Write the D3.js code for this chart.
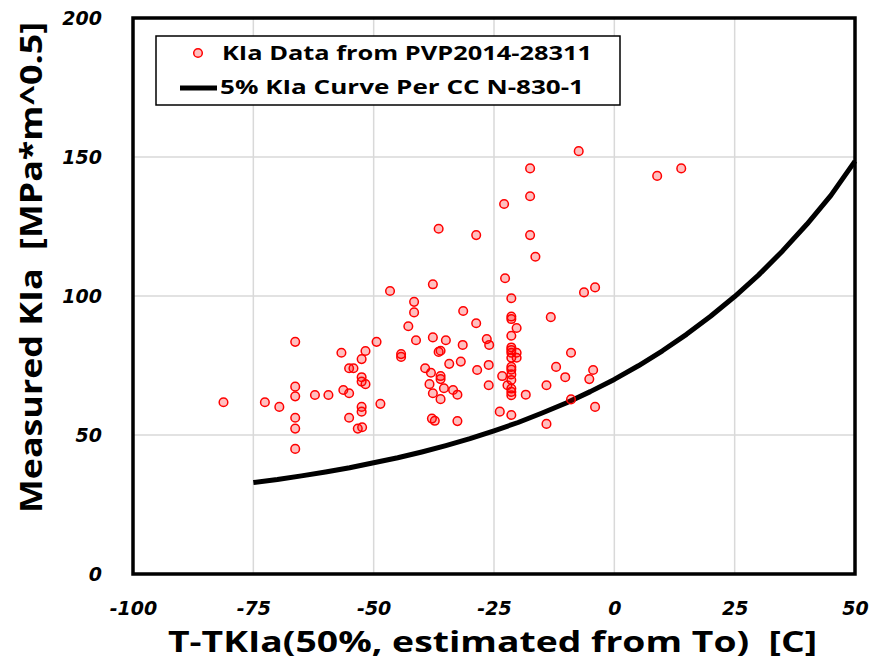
<!DOCTYPE html>
<html>
<head>
<meta charset="utf-8">
<script src="https://cdn.jsdelivr.net/npm/d3@7"></script>
<style>
  body { margin: 0; background: #fff; }
  svg { display: block; }
  text { font-family: "Open Sans", "DejaVu Sans", sans-serif; font-weight: bold; fill: #000; white-space: pre; }
</style>
</head>
<body>
<svg id="vis-container"></svg>
<script>
const WIDTH = 871
const HEIGHT = 661
const PLOT = { left: 133, right: 855, top: 18, bottom: 574 }
const CONTAINER = d3.select("#vis-container")

// measured KIa data (T - TKIa50, KIa)
const dataTemp = [
    -81.2, -72.6, -69.6, -66.3, -66.3, -66.3, -66.3, -66.3, -66.3, -62.2,
    -59.4, -56.7, -56.3, -55.1, -54.2, -55.1, -55.1, -53.3, -52.4, -52.5,
    -51.7, -52.5, -52.5, -51.7, -52.5, -52.5, -49.4, -48.6, -46.6, -44.3,
    -44.3, -42.8, -41.6, -41.6, -41.2, -39.3, -38.4, -38.1, -37.7, -37.7,
    -37.7, -37.9, -37.3, -36.5, -36.5, -36.1, -36.1, -36.1, -36.1, -35.4,
    -35.0, -34.3, -33.5, -32.6, -32.6, -31.9, -31.5, -31.4, -28.7, -28.7,
    -28.5, -26.5, -26.0, -26.1, -26.1, -23.8, -23.3, -22.9, -22.7, -22.2,
    -21.4, -21.4, -21.4, -21.4, -21.4, -21.4, -21.4, -21.4, -21.4, -21.4,
    -21.4, -21.4, -21.4, -21.4, -21.4, -21.4, -20.3, -20.3, -20.3, -18.4,
    -17.5, -17.5, -17.5, -16.4, -14.1, -14.1, -13.2, -12.1, -10.2, -9.0,
    -9.0, -7.4, -6.3, -5.2, -4.4, -4.0, -4.0, 8.9, 13.9
]
const dataKIa = [
    61.8, 61.8, 60.1, 83.5, 67.4, 63.9, 56.2, 52.3, 45.0, 64.4,
    64.4, 79.6, 66.2, 74.0, 74.0, 65.0, 56.2, 52.3, 52.8, 77.3,
    80.2, 70.8, 69.2, 68.3, 60.1, 58.4, 83.5, 61.2, 101.8, 79.1,
    78.1, 89.1, 97.9, 94.1, 84.1, 74.0, 68.3, 72.4, 104.2, 85.1,
    65.0, 55.9, 55.1, 124.2, 79.9, 80.3, 71.2, 70.1, 62.9, 66.8,
    84.1, 75.6, 66.2, 64.5, 55.0, 76.4, 82.4, 94.6, 121.9, 90.2,
    73.4, 84.5, 82.4, 75.2, 67.9, 58.4, 71.2, 133.1, 106.4, 67.9,
    99.2, 92.6, 91.7, 85.7, 81.5, 80.6, 79.6, 77.8, 74.5, 73.5,
    71.8, 69.8, 66.7, 65.5, 64.3, 57.2, 88.5, 79.6, 77.8, 64.5,
    145.9, 135.9, 121.9, 114.1, 67.9, 54.0, 92.4, 74.5, 70.8, 79.6,
    62.8, 152.1, 101.3, 70.1, 73.4, 103.1, 60.1, 143.2, 145.9
]

// 5% KIa curve (CC N-830-1)
const curveTemp = [-75, -70, -65, -60, -55, -50, -45, -40, -35, -30, -25, -20, -15,
    -10, -5, 0, 5, 10, 15, 20, 25, 30, 35, 40, 45, 50]
const curveKIa = [32.9, 34.0, 35.3, 36.7, 38.2, 40.0, 41.8, 43.9, 46.2, 48.7, 51.5, 54.5, 57.9,
    61.5, 65.6, 70.0, 74.9, 80.3, 86.2, 92.7, 99.8, 107.6, 116.3, 125.8, 136.2, 148.5]

const xTicks = [-100, -75, -50, -25, 0, 25, 50]
const yTicks = [0, 50, 100, 150, 200]

const legendLabels = ["KIa Data from PVP2014-28311", "5% KIa Curve Per CC N-830-1"]
const xTitle = "T-TKIa(50%, estimated from To)  [C]"
const yTitle = "Measured KIa  [MPa*m^0.5]"

initVisualization()

function initVisualization() {
    CONTAINER
        .attr('width', WIDTH)
        .attr('height', HEIGHT)

    const x = d3.scaleLinear().domain([-100, 50]).range([PLOT.left, PLOT.right])
    const y = d3.scaleLinear().domain([0, 200]).range([PLOT.bottom, PLOT.top])

    // grid
    const grid = CONTAINER.append('g').attr('id', 'grid')
    grid.selectAll('line.vx')
        .data(xTicks)
        .join('line')
        .attr('class', 'vx')
        .attr('x1', d => x(d)).attr('x2', d => x(d))
        .attr('y1', PLOT.top).attr('y2', PLOT.bottom)
        .style('stroke', '#d9d9d9').style('stroke-width', 1.5)
    grid.selectAll('line.hy')
        .data(yTicks)
        .join('line')
        .attr('class', 'hy')
        .attr('x1', PLOT.left).attr('x2', PLOT.right)
        .attr('y1', d => y(d)).attr('y2', d => y(d))
        .style('stroke', '#d9d9d9').style('stroke-width', 1.5)

    // axes (labels only, frame drawn separately)
    const plainNumber = d => String(d)
    const xAxis = CONTAINER.append('g')
        .attr('transform', `translate(0,${PLOT.bottom})`)
        .call(d3.axisBottom(x).tickValues(xTicks).tickSize(0).tickFormat(plainNumber))
    const yAxis = CONTAINER.append('g')
        .attr('transform', `translate(${PLOT.left},0)`)
        .call(d3.axisLeft(y).tickValues(yTicks).tickSize(0).tickPadding(31).tickFormat(plainNumber))
    ;[xAxis, yAxis].forEach(ax => {
        ax.select('.domain').remove()
        ax.selectAll('text')
            .style('font-size', '19px')
            .style('font-style', 'italic')
            .style('font-weight', 'bold')
            .style('font-family', '"DejaVu Sans", sans-serif')
    })
    xAxis.selectAll('text').attr('dy', 0).attr('y', 41)
    yAxis.selectAll('text').attr('dy', '0.35em')

    // curve
    const curve = curveTemp.map((t, i) => [t, curveKIa[i]])
    CONTAINER.append('path')
        .datum(curve)
        .attr('d', d3.line().x(d => x(d[0])).y(d => y(d[1])))
        .style('fill', 'none')
        .style('stroke', '#000')
        .style('stroke-width', 5)
        .style('stroke-linejoin', 'round')

    // scatter
    const points = dataTemp.map((t, i) => [t, dataKIa[i]])
    CONTAINER.append('g').attr('id', 'points')
        .selectAll('circle')
        .data(points)
        .join('circle')
        .attr('cx', d => x(d[0]))
        .attr('cy', d => y(d[1]))
        .attr('r', 4.3)
        .style('fill', 'rgba(255,0,0,0.25)')
        .style('stroke', '#ff0000')
        .style('stroke-width', 1.5)

    // frame
    CONTAINER.append('rect')
        .attr('x', PLOT.left).attr('y', PLOT.top)
        .attr('width', PLOT.right - PLOT.left)
        .attr('height', PLOT.bottom - PLOT.top)
        .style('fill', 'none')
        .style('stroke', '#000')
        .style('stroke-width', 3.5)

    // legend
    const legend = CONTAINER.append('g').attr('id', 'legend')
    legend.append('rect')
        .attr('x', 156).attr('y', 36)
        .attr('width', 464).attr('height', 69)
        .style('fill', '#fff')
        .style('stroke', '#000')
        .style('stroke-width', 1.5)
    legend.append('circle')
        .attr('cx', 198).attr('cy', 53).attr('r', 4.3)
        .style('fill', 'rgba(255,0,0,0.25)')
        .style('stroke', '#ff0000')
        .style('stroke-width', 1.5)
    legend.append('line')
        .attr('x1', 180).attr('x2', 217).attr('y1', 88).attr('y2', 88)
        .style('stroke', '#000').style('stroke-width', 5)
    legend.append('text')
        .attr('x', 222).attr('y', 60)
        .attr('textLength', 370).attr('lengthAdjust', 'spacingAndGlyphs')
        .style('font-size', '20px')
        .text(legendLabels[0])
    legend.append('text')
        .attr('x', 220).attr('y', 94)
        .attr('textLength', 364).attr('lengthAdjust', 'spacingAndGlyphs')
        .style('font-size', '20px')
        .text(legendLabels[1])

    // axis titles
    CONTAINER.append('text')
        .attr('x', 168).attr('y', 652)
        .attr('textLength', 649).attr('lengthAdjust', 'spacingAndGlyphs')
        .style('font-size', '29px')
        .text(xTitle)
    CONTAINER.append('text')
        .attr('transform', 'translate(42,513) rotate(-90)')
        .attr('textLength', 491).attr('lengthAdjust', 'spacingAndGlyphs')
        .style('font-size', '30px')
        .text(yTitle)
}
</script>
</body>
</html>
